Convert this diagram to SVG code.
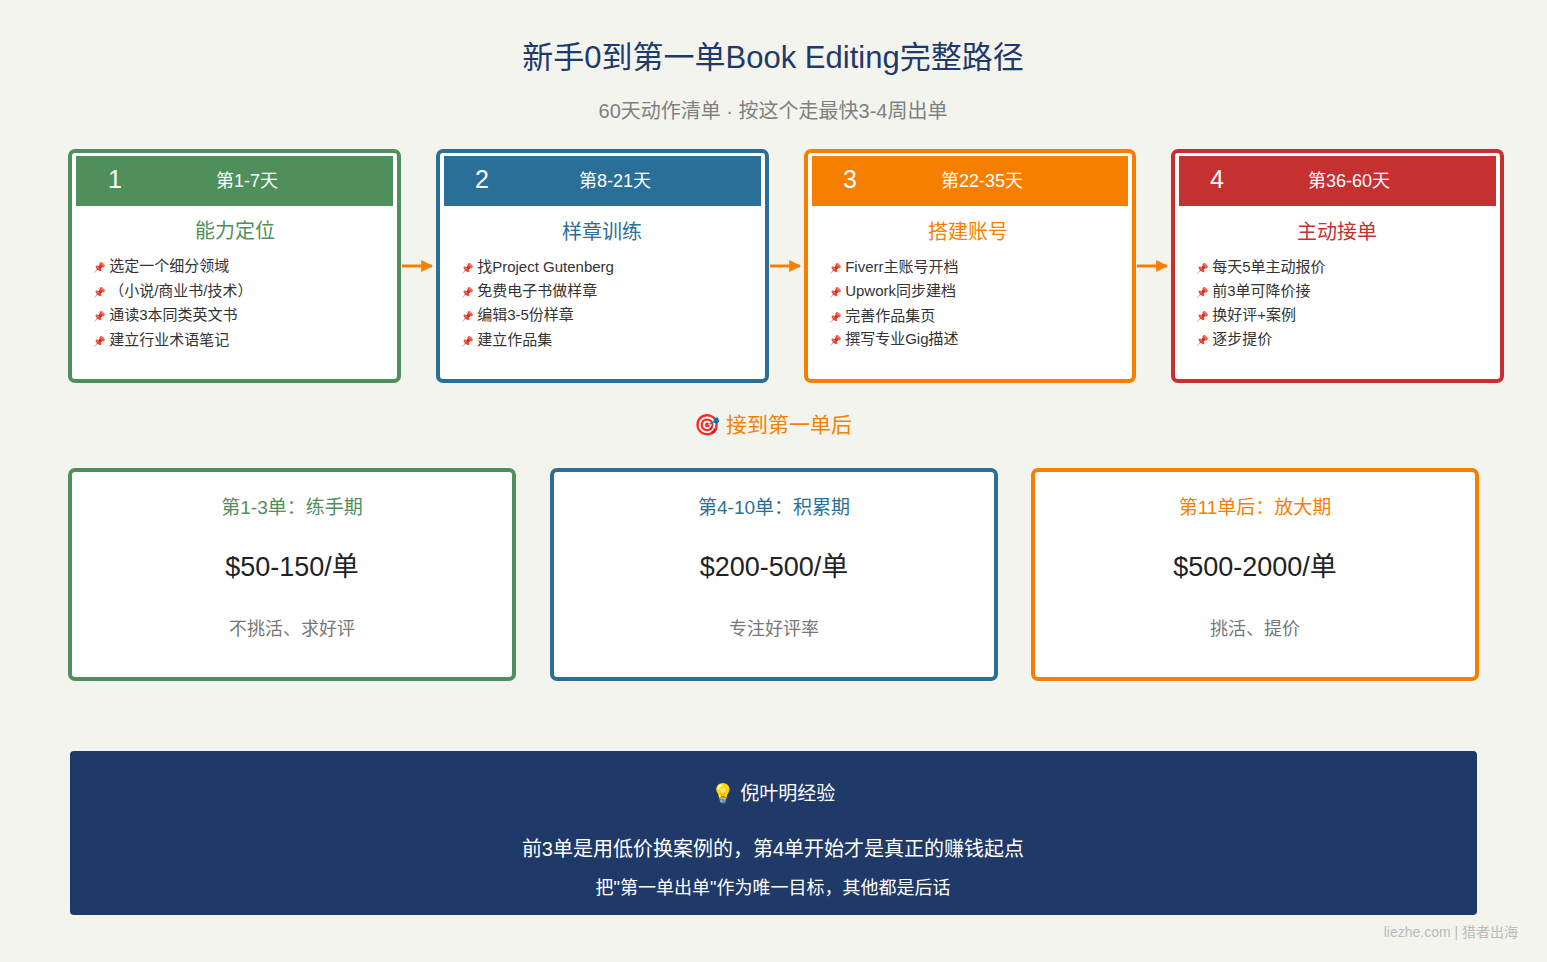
<svg xmlns="http://www.w3.org/2000/svg" width="1547" height="962" viewBox="0 0 1547 962">
<defs>
<marker id="ah" viewBox="0 0 10 10" refX="9" refY="5" markerWidth="4" markerHeight="4" orient="auto"><path d="M0,0 L10,5 L0,10 z" fill="#f77f00"/></marker>
<style>
text{font-family:"Liberation Sans","Noto Sans CJK SC",sans-serif;}
.card{fill:#fff;stroke-width:4;}
.num{font-size:25px;fill:#fff;}
.day{font-size:18px;fill:#fff;text-anchor:middle;}
.ttl{font-size:20px;text-anchor:middle;}
.bul{font-size:15px;fill:#333;}
.ic{font-size:10px;}
.bt{font-size:19px;text-anchor:middle;}
.price{font-size:27px;fill:#222;text-anchor:middle;}
.desc{font-size:18px;fill:#777;text-anchor:middle;}
.conn{stroke:#f77f00;stroke-width:3;fill:none;marker-end:url(#ah);}
</style>
</defs>
<rect width="1547" height="962" fill="#f4f4ef"/>
<text x="773" y="68" font-size="31" fill="#1f3a68" text-anchor="middle">新手0到第一单Book Editing完整路径</text>
<text x="773" y="118" font-size="20" fill="#808080" text-anchor="middle">60天动作清单 · 按这个走最快3-4周出单</text>

<g id="step1">
<rect class="card" x="70" y="151" width="329" height="230" rx="5" stroke="#4f8f5c"/>
<rect x="76" y="156" width="317" height="50" fill="#4f8f5c"/>
<text class="num" x="108" y="188">1</text>
<text class="day" x="247" y="187">第1-7天</text>
<text class="ttl" x="235" y="238" fill="#4f8f5c">能力定位</text>
<text class="bul" x="93" y="271"><tspan class="ic">📌</tspan> 选定一个细分领域</text>
<text class="bul" x="93" y="296"><tspan class="ic">📌</tspan> （小说/商业书/技术）</text>
<text class="bul" x="93" y="320"><tspan class="ic">📌</tspan> 通读3本同类英文书</text>
<text class="bul" x="93" y="345"><tspan class="ic">📌</tspan> 建立行业术语笔记</text>
</g>
<g id="step2">
<rect class="card" x="438" y="151" width="329" height="230" rx="5" stroke="#2a6f97"/>
<rect x="444" y="156" width="317" height="50" fill="#2a6f97"/>
<text class="num" x="475" y="188">2</text>
<text class="day" x="615" y="187">第8-21天</text>
<text class="ttl" x="602" y="239" fill="#2a6f97">样章训练</text>
<text class="bul" x="461" y="272"><tspan class="ic">📌</tspan> 找Project Gutenberg</text>
<text class="bul" x="461" y="296"><tspan class="ic">📌</tspan> 免费电子书做样章</text>
<text class="bul" x="461" y="320"><tspan class="ic">📌</tspan> 编辑3-5份样章</text>
<text class="bul" x="461" y="345"><tspan class="ic">📌</tspan> 建立作品集</text>
</g>
<g id="step3">
<rect class="card" x="806" y="151" width="328" height="230" rx="5" stroke="#f77f00"/>
<rect x="812" y="156" width="316" height="50" fill="#f77f00"/>
<text class="num" x="843" y="188">3</text>
<text class="day" x="982" y="187">第22-35天</text>
<text class="ttl" x="968" y="239" fill="#f77f00">搭建账号</text>
<text class="bul" x="829" y="272"><tspan class="ic">📌</tspan> Fiverr主账号开档</text>
<text class="bul" x="829" y="296"><tspan class="ic">📌</tspan> Upwork同步建档</text>
<text class="bul" x="829" y="321"><tspan class="ic">📌</tspan> 完善作品集页</text>
<text class="bul" x="829" y="344"><tspan class="ic">📌</tspan> 撰写专业Gig描述</text>
</g>
<g id="step4">
<rect class="card" x="1173" y="151" width="329" height="230" rx="5" stroke="#c53030"/>
<rect x="1179" y="156" width="317" height="50" fill="#c53030"/>
<text class="num" x="1210" y="188">4</text>
<text class="day" x="1349" y="187">第36-60天</text>
<text class="ttl" x="1337" y="239" fill="#c53030">主动接单</text>
<text class="bul" x="1196" y="272"><tspan class="ic">📌</tspan> 每天5单主动报价</text>
<text class="bul" x="1196" y="296"><tspan class="ic">📌</tspan> 前3单可降价接</text>
<text class="bul" x="1196" y="320"><tspan class="ic">📌</tspan> 换好评+案例</text>
<text class="bul" x="1196" y="344"><tspan class="ic">📌</tspan> 逐步提价</text>
</g>

<g id="connectors">
<line class="conn" x1="402" y1="266" x2="432" y2="266"/>
<line class="conn" x1="770" y1="266" x2="800" y2="266"/>
<line class="conn" x1="1137" y1="266" x2="1167" y2="266"/>
</g>

<text x="773" y="432" font-size="21" fill="#f77f00" text-anchor="middle">🎯 接到第一单后</text>

<g id="stage1">
<rect class="card" x="70" y="470" width="444" height="209" rx="5" stroke="#4f8f5c"/>
<text class="bt" x="292" y="514" fill="#4f8f5c">第1-3单：练手期</text>
<text class="price" x="292" y="576">$50-150/单</text>
<text class="desc" x="292" y="635">不挑活、求好评</text>
</g>
<g id="stage2">
<rect class="card" x="552" y="470" width="444" height="209" rx="5" stroke="#2a6f97"/>
<text class="bt" x="774" y="514" fill="#2a6f97">第4-10单：积累期</text>
<text class="price" x="774" y="576">$200-500/单</text>
<text class="desc" x="774" y="635">专注好评率</text>
</g>
<g id="stage3">
<rect class="card" x="1033" y="470" width="444" height="209" rx="5" stroke="#f77f00"/>
<text class="bt" x="1255" y="514" fill="#f77f00">第11单后：放大期</text>
<text class="price" x="1255" y="576">$500-2000/单</text>
<text class="desc" x="1255" y="635">挑活、提价</text>
</g>

<g id="tip">
<rect x="70" y="751" width="1407" height="164" rx="4" fill="#1f3a68"/>
<text x="773" y="800" font-size="19" fill="#fff" text-anchor="middle">💡 倪叶明经验</text>
<text x="773" y="856" font-size="20" fill="#fff" text-anchor="middle">前3单是用低价换案例的，第4单开始才是真正的赚钱起点</text>
<text x="773" y="894" font-size="18" fill="#fff" text-anchor="middle">把"第一单出单"作为唯一目标，其他都是后话</text>
</g>
<text x="1518" y="937" font-size="14" fill="#bbbbbb" text-anchor="end">liezhe.com | 猎者出海</text>
</svg>
